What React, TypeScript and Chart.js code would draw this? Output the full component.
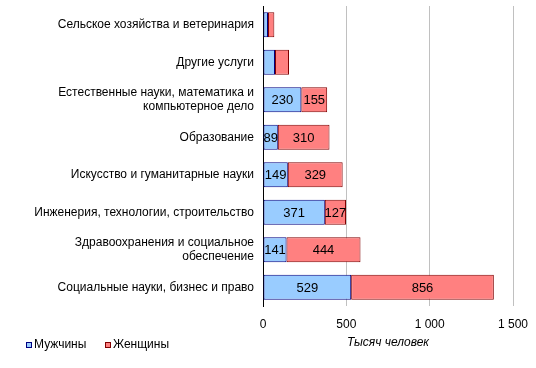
import React, { useEffect, useRef } from "react";
import { Chart, registerables } from "chart.js";

Chart.register(...registerables);

const categories: (string | string[])[] = [
  "Сельское хозяйства и ветеринария",
  "Другие услуги",
  ["Естественные науки, математика и", "компьютерное дело"],
  "Образование",
  "Искусство и гуманитарные науки",
  "Инженерия, технологии, строительство",
  ["Здравоохранения и социальное", "обеспечение"],
  "Социальные науки, бизнес и право",
];

const menValues = [30, 72, 230, 89, 149, 371, 141, 529];
const womenValues = [38, 84, 155, 310, 329, 127, 444, 856];

const seriesNames = ["Мужчины", "Женщины"];
const axisTitle = "Тысяч человек";
const xMin = 0;
const xMax = 1500;
const xStep = 500;
const labelThreshold = 85;

const FONT = "Arial, 'Liberation Sans', sans-serif";

const formatNum = (v: number) =>
  String(v).replace(/\B(?=(\d{3})+(?!\d))/g, " ");

const dataLabelPlugin = {
  id: "dataLabels",
  afterDatasetsDraw(chart: any) {
    const ctx = chart.ctx;
    ctx.save();
    ctx.font = `13px ${FONT}`;
    ctx.fillStyle = "#000";
    ctx.textAlign = "center";
    ctx.textBaseline = "middle";
    chart.data.datasets.forEach((ds: any, di: number) => {
      const meta = chart.getDatasetMeta(di);
      meta.data.forEach((el: any, i: number) => {
        const v = ds.data[i];
        if (v < labelThreshold) return;
        const { x, base, y } = el.getProps(["x", "base", "y"], true);
        ctx.fillText(String(v), (x + base) / 2, y + 1);
      });
    });
    ctx.restore();
  },
};

const legendPlugin = {
  id: "customLegend",
  afterDraw(chart: any) {
    const ctx = chart.ctx;
    ctx.save();
    ctx.font = `12px ${FONT}`;
    ctx.textBaseline = "middle";
    ctx.textAlign = "left";
    let x = 26;
    const y = 345;
    chart.data.datasets.forEach((ds: any) => {
      ctx.fillStyle = ds.backgroundColor;
      ctx.fillRect(x, y - 3, 6, 6);
      ctx.strokeStyle = ds.borderColor;
      ctx.lineWidth = 1;
      ctx.strokeRect(x + 0.5, y - 2.5, 5, 5);
      ctx.fillStyle = "#000";
      ctx.fillText(ds.label, x + 8, y);
      x += 79;
    });
    ctx.restore();
  },
};

export default function App() {
  const canvasRef = useRef<HTMLCanvasElement | null>(null);

  useEffect(() => {
    document.body.style.margin = "0";
    const canvas = canvasRef.current;
    if (!canvas) return;
    const chart = new Chart(canvas, {
      type: "bar",
      data: {
        labels: categories as any,
        datasets: [
          {
            label: seriesNames[0],
            data: menValues,
            backgroundColor: "#99CCFF",
            borderColor: "#000080",
            borderWidth: 1,
            borderSkipped: false,
            categoryPercentage: 1,
            barPercentage: 0.667,
          },
          {
            label: seriesNames[1],
            data: womenValues,
            backgroundColor: "#FF8080",
            borderColor: "#800000",
            borderWidth: 1,
            borderSkipped: false,
            categoryPercentage: 1,
            barPercentage: 0.667,
          },
        ],
      },
      options: {
        indexAxis: "y",
        animation: false,
        responsive: false,
        maintainAspectRatio: false,
        layout: { padding: { top: 6, right: 23, bottom: 18, left: 0 } },
        plugins: {
          legend: { display: false },
          tooltip: { enabled: false },
        },
        scales: {
          x: {
            stacked: true,
            min: xMin,
            max: xMax,
            afterFit: (scale: any) => {
              scale.height = 44;
              scale.paddingLeft = 0;
              scale.paddingRight = 0;
            },
            ticks: {
              stepSize: xStep,
              color: "#000",
              font: { family: FONT, size: 12 },
              padding: 11,
              callback: (v: any) => formatNum(Number(v)),
              maxRotation: 0,
            },
            grid: {
              color: (ctx: any) =>
                ctx.tick && ctx.tick.value === 0 ? "rgba(0,0,0,0)" : "#C0C0C0",
              drawTicks: false,
              lineWidth: 1,
            },
            border: { display: false },
            title: {
              display: true,
              text: axisTitle,
              color: "#000",
              font: { family: FONT, size: 12, style: "italic" },
              padding: 0,
            },
          },
          y: {
            stacked: true,
            afterFit: (scale: any) => {
              scale.width = 263;
              scale.paddingTop = 0;
              scale.paddingBottom = 0;
            },
            ticks: {
              color: "#000",
              font: { family: FONT, size: 12 },
              padding: 9,
              autoSkip: false,
            },
            grid: { display: false, drawTicks: false },
            border: { display: true, color: "#000", width: 1 },
          },
        },
      },
      plugins: [dataLabelPlugin, legendPlugin],
    });
    return () => chart.destroy();
  }, []);

  return (
    <div style={{ position: "absolute", left: 0, top: 0, width: 536, height: 368, background: "#fff" }}>
      <canvas ref={canvasRef} width={536} height={368} style={{ width: 536, height: 368 }} />
    </div>
  );
}
